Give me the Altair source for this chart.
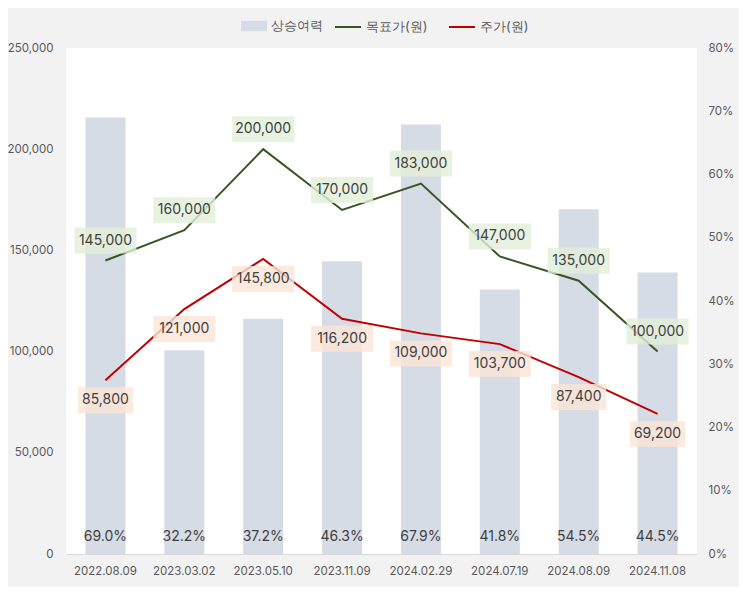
import altair as alt
import pandas as pd

dates = ["2022.08.09", "2023.03.02", "2023.05.10", "2023.11.09",
         "2024.02.29", "2024.07.19", "2024.08.09", "2024.11.08"]
upside = [0.690, 0.322, 0.372, 0.463, 0.679, 0.418, 0.545, 0.445]
target = [145000, 160000, 200000, 170000, 183000, 147000, 135000, 100000]
price = [85800, 121000, 145800, 116200, 109000, 103700, 87400, 69200]

S_UP, S_TG, S_PR = "상승여력", "목표가(원)", "주가(원)"
C_BAR, C_TG, C_PR = "#d6dce5", "#375623", "#c00000"

W, H = 631, 506
YMAX = 250000
HALF = 13 * YMAX / H  # half box height in data units

bars_df = pd.DataFrame({"date": dates, "pct": upside, "series": S_UP})
lines_df = pd.concat([
    pd.DataFrame({"date": dates, "value": target, "series": S_TG}),
    pd.DataFrame({"date": dates, "value": price, "series": S_PR}),
])

FONT = "Inter"
TXT = "#404040"

xenc = alt.X("date:N", sort=dates, title=None,
             scale=alt.Scale(paddingInner=0.49, paddingOuter=0.245),
             axis=alt.Axis(labelAngle=0, labelFont=FONT, labelFontSize=11.5,
                           labelColor="#595959", ticks=False, labelPadding=11,
                           domainColor="#d9d9d9", grid=False))

leg_common = dict(orient="none", direction="horizontal", title=None,
                  labelFont=FONT, labelFontSize=13, labelColor="#595959",
                  symbolSize=676, labelOffset=4, columnPadding=17)

fill_enc = alt.Fill("series:N", scale=alt.Scale(domain=[S_UP], range=[C_BAR]),
                    legend=alt.Legend(legendX=175, legendY=-35,
                                      symbolType="M-1,-0.4H1V0.4H-1Z",
                                      symbolStrokeWidth=0, **leg_common))
stroke_enc = alt.Stroke("series:N", scale=alt.Scale(domain=[S_TG, S_PR],
                                                    range=[C_TG, C_PR]),
                        legend=alt.Legend(legendX=268, legendY=-35,
                                          symbolType="M-1,0H1",
                                          symbolStrokeWidth=2, **leg_common))

ypct = alt.Y("pct:Q", title=None,
             scale=alt.Scale(domain=[0, 0.8]),
             axis=alt.Axis(orient="right", values=[i / 10 for i in range(9)],
                           format=".0%", labelFont=FONT, labelFontSize=11.5,
                           labelColor="#595959", ticks=False, domain=False,
                           grid=False, labelPadding=11))

bar_base = alt.Chart(bars_df)
bars = bar_base.mark_bar(width=40).encode(x=xenc, y=ypct, fill=fill_enc)
pct_text = bar_base.mark_text(font=FONT, fontSize=14, color=TXT, baseline="middle",
                              dy=-17).encode(
    x=xenc, y=alt.Y(datum=0), text=alt.Text("pct:Q", format=".1%"))
bar_layer = alt.layer(bars, pct_text)

yval = alt.Y("value:Q", title=None,
             scale=alt.Scale(domain=[0, YMAX]),
             axis=alt.Axis(orient="left", values=list(range(0, 250001, 50000)),
                           format=",d", labelFont=FONT, labelFontSize=11.5,
                           labelColor="#595959", ticks=False, domain=False,
                           grid=False, labelPadding=13))

lbase = alt.Chart(lines_df)
lines = lbase.mark_line(strokeWidth=2).encode(x=xenc, y=yval, stroke=stroke_enc,
                                              detail="series:N")

def box_layers(series, fill, off):
    src = lbase.transform_filter(alt.datum.series == series).transform_calculate(
        lo=f"datum.value - {HALF}", hi=f"datum.value + {HALF}")
    out = []
    for cond, w in [("datum.value >= 100000", 62), ("datum.value < 100000", 55)]:
        out.append(src.transform_filter(cond).mark_bar(
            width=w, color=fill, opacity=0.8, yOffset=off, y2Offset=off).encode(
            x=xenc, y=alt.Y("lo:Q", scale=alt.Scale(domain=[0, YMAX])), y2="hi:Q"))
    out.append(src.mark_text(font=FONT, fontSize=14, color=TXT, baseline="middle",
                             yOffset=off).encode(
        x=xenc, y=yval, text=alt.Text("value:Q", format=",d")))
    return out

line_layer = alt.layer(lines, *box_layers(S_TG, "#e2efda", -20),
                       *box_layers(S_PR, "#fbe5d6", 20))

chart = alt.layer(bar_layer, line_layer).resolve_scale(y="independent").properties(
    width=W, height=H,
    autosize=alt.AutoSizeParams(type="none"),
    padding={"left": 58, "top": 40, "right": 42, "bottom": 33},
    background="#f2f2f2",
).configure_view(fill="white", stroke=None)

chart.save("out.html", embed_options={"renderer": "svg", "actions": False})
